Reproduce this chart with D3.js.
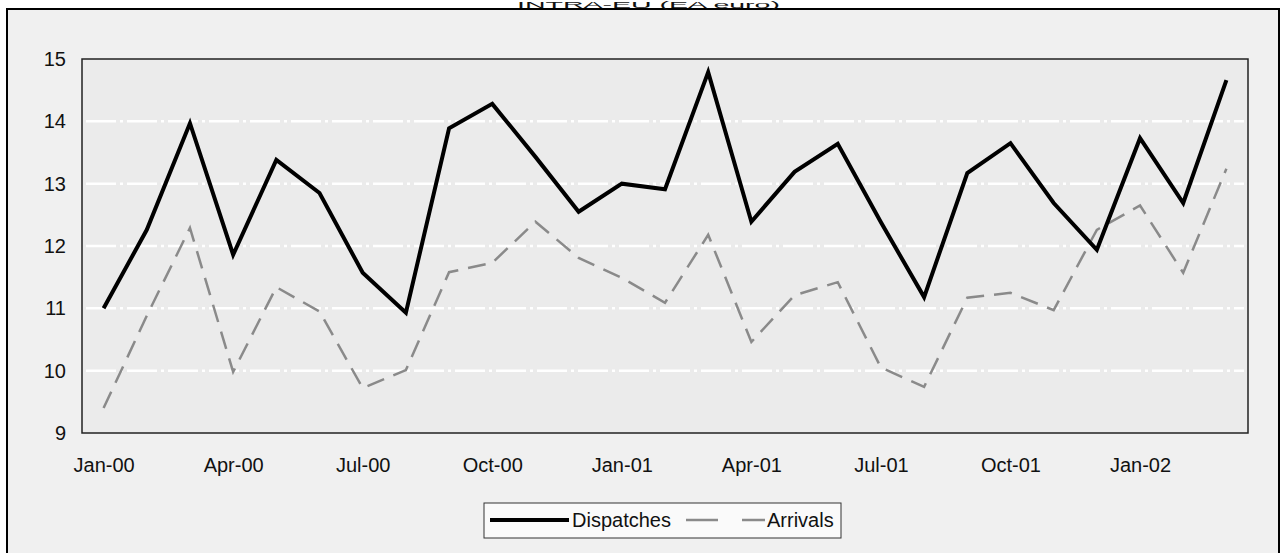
<!DOCTYPE html>
<html>
<head>
<meta charset="utf-8">
<script src="https://cdn.jsdelivr.net/npm/d3@7"></script>
<style>
  body { margin: 0; background: #fff; }
  text { font-family: "Liberation Sans", Arial, sans-serif; fill: #111; }
</style>
</head>
<body>
<script>
// monthly values, Jan-00 .. Mar-02
const months = ["Jan-00","Feb-00","Mar-00","Apr-00","May-00","Jun-00","Jul-00","Aug-00","Sep-00",
  "Oct-00","Nov-00","Dec-00","Jan-01","Feb-01","Mar-01","Apr-01","May-01","Jun-01",
  "Jul-01","Aug-01","Sep-01","Oct-01","Nov-01","Dec-01","Jan-02","Feb-02","Mar-02"];
const dispatches = [11.0, 12.26, 13.97, 11.86, 13.38, 12.85, 11.57, 10.93, 13.89,
  14.28, 13.43, 12.55, 13.0, 12.91, 14.79, 12.39, 13.19, 13.64,
  12.38, 11.18, 13.17, 13.65, 12.69, 11.94, 13.73, 12.69, 14.66];
const arrivals = [9.4, 10.88, 12.29, 9.98, 11.34, 10.95, 9.72, 10.01, 11.58,
  11.73, 12.39, 11.81, 11.49, 11.09, 12.18, 10.46, 11.21, 11.42,
  10.05, 9.74, 11.17, 11.25, 10.97, 12.26, 12.65, 11.57, 13.24];
const xTicks = ["Jan-00","Apr-00","Jul-00","Oct-00","Jan-01","Apr-01","Jul-01","Oct-01","Jan-02"];
const yTicks = [9, 10, 11, 12, 13, 14, 15];
const seriesNames = ["Dispatches", "Arrivals"];

const w = 1282, h = 553;
const pLeft = 82, pRight = 1248, pTop = 59, pBottom = 433;

const svg = d3.select("body").append("svg")
  .attr("width", w).attr("height", h);

// outer frame
svg.append("rect")
  .attr("x", 7).attr("y", 9).attr("width", 1272).attr("height", 560)
  .style("fill", "#f0f0f0").style("stroke", "#000").style("stroke-width", 2);

// title squeezed into the strip above the frame
svg.append("text")
  .attr("x", 517).attr("y", 7.5)
  .attr("textLength", 263).attr("lengthAdjust", "spacingAndGlyphs")
  .style("font-size", "9px")
  .text("INTRA-EU (EA euro)");

const x = d3.scalePoint().domain(months).range([pLeft, pRight]).padding(0.5);
const y = d3.scaleLinear().domain([9, 15]).range([pBottom, pTop]);

// plot area
svg.append("rect")
  .attr("x", pLeft).attr("y", pTop).attr("width", pRight - pLeft).attr("height", pBottom - pTop)
  .style("fill", "#ebebeb");

// grid
svg.selectAll(".grid")
  .data(yTicks.slice(1, -1))
  .enter().append("line")
  .attr("class", "grid")
  .attr("x1", pLeft + 4).attr("x2", pRight - 4)
  .attr("y1", d => y(d)).attr("y2", d => y(d))
  .style("stroke", "#fff").style("stroke-width", 2.5)
  .style("stroke-dasharray", "30,4,3,4");

svg.append("rect")
  .attr("x", pLeft).attr("y", pTop).attr("width", pRight - pLeft).attr("height", pBottom - pTop)
  .style("fill", "none").style("stroke", "#222").style("stroke-width", 1.5);

// y axis labels
const yAxis = d3.axisLeft(y).tickValues(yTicks).tickFormat(d3.format("d")).tickSize(0).tickPadding(16);
const gy = svg.append("g").attr("transform", `translate(${pLeft},0)`).call(yAxis);
gy.select(".domain").remove();
gy.selectAll("text").style("font-size", "20px").style("font-family", "'Liberation Sans', Arial, sans-serif").attr("fill", "#111");

// x axis labels
const xAxis = d3.axisBottom(x).tickValues(xTicks).tickSize(0).tickPadding(25);
const gx = svg.append("g").attr("transform", `translate(0,${pBottom})`).call(xAxis);
gx.select(".domain").remove();
gx.selectAll("text").style("font-size", "20px").style("font-family", "'Liberation Sans', Arial, sans-serif").attr("fill", "#111");

const line = d3.line().x((d, i) => x(months[i])).y(d => y(d));

svg.append("path")
  .datum(arrivals)
  .attr("d", line)
  .style("fill", "none").style("stroke", "#8a8a8a").style("stroke-width", 2.5)
  .style("stroke-dasharray", "18,10");

svg.append("path")
  .datum(dispatches)
  .attr("d", line)
  .style("fill", "none").style("stroke", "#000").style("stroke-width", 4)
  .style("stroke-linejoin", "miter");

// legend
const lg = svg.append("g");
lg.append("rect")
  .attr("x", 484).attr("y", 503).attr("width", 357).attr("height", 35)
  .style("fill", "#fafafa").style("stroke", "#333").style("stroke-width", 1);
lg.append("line")
  .attr("x1", 490).attr("x2", 569).attr("y1", 520).attr("y2", 520)
  .style("stroke", "#000").style("stroke-width", 4);
lg.append("text").attr("x", 572).attr("y", 527).style("font-size", "20px").text(seriesNames[0]);
lg.append("line")
  .attr("x1", 686).attr("x2", 765).attr("y1", 520).attr("y2", 520)
  .style("stroke", "#8a8a8a").style("stroke-width", 2.5)
  .style("stroke-dasharray", "32,24");
lg.append("text").attr("x", 767).attr("y", 527).style("font-size", "20px").text(seriesNames[1]);
</script>
</body>
</html>
